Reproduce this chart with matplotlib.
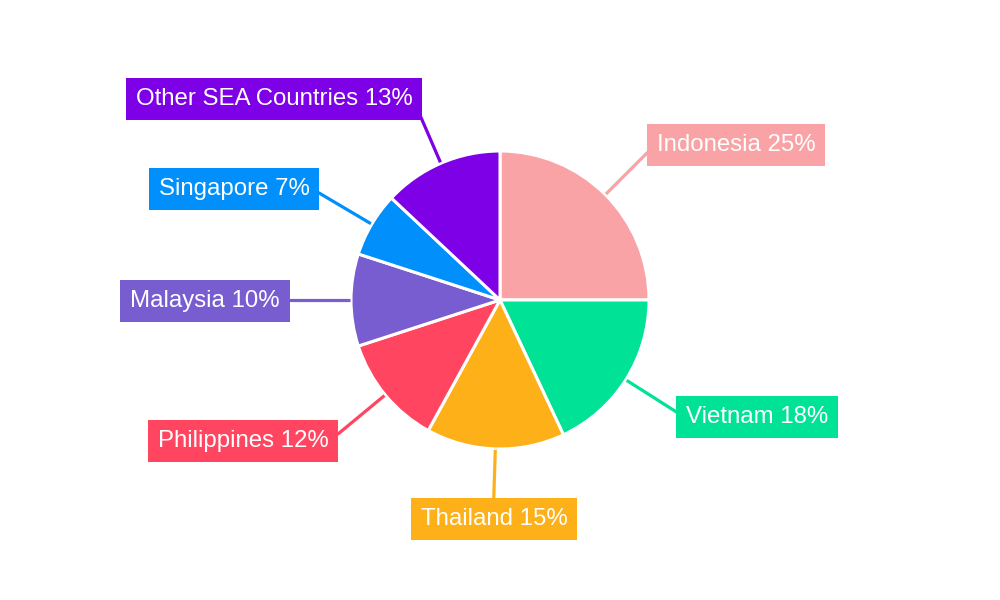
import matplotlib.pyplot as plt
import numpy as np

plt.rcParams['font.family'] = ['Liberation Sans', 'DejaVu Sans']

countries = ["Indonesia", "Vietnam", "Thailand", "Philippines", "Malaysia", "Singapore", "Other SEA Countries"]
shares = [25, 18, 15, 12, 10, 7, 13]
colors = ["#F9A3A6", "#00E396", "#FEB019", "#FF4560", "#775DD0", "#008FFB", "#7E00E6"]

# label box centres in pixel coords (y down), layout only
label_pos = [(736, 144), (757, 416), (494, 518), (243, 440), (205, 300), (234, 188), (274, 98)]

fig = plt.figure(figsize=(10, 6), dpi=100)
ax = fig.add_axes([0, 0, 1, 1])

cx, cy, r = 500, 300, 149
wedges, _ = ax.pie(shares, colors=colors, startangle=90, counterclock=False,
                   center=(cx, cy), radius=r, frame=True,
                   wedgeprops=dict(edgecolor='white', linewidth=2.2))
ax.set_xlim(0, 1000)
ax.set_ylim(0, 600)
ax.set_aspect('equal')
ax.axis('off')

for w, name, val, col, (lx, ly) in zip(wedges, countries, shares, colors, label_pos):
    ang = np.deg2rad((w.theta1 + w.theta2) / 2)
    dx, dy = np.cos(ang), np.sin(ang)
    ax.plot([cx + dx * (r + 1), cx + dx * (r + 62)], [cy + dy * (r + 1), cy + dy * (r + 62)],
            color=col, lw=2.3, solid_capstyle='butt', zorder=1)
    ax.text(lx, 600 - ly - 1, f"{name} {val}%", ha='center', va='center', fontsize=17.3,
            color='white', zorder=3,
            bbox=dict(boxstyle='square,pad=0.41', facecolor=col, edgecolor='none'))

fig.savefig('out.png', dpi=100)
